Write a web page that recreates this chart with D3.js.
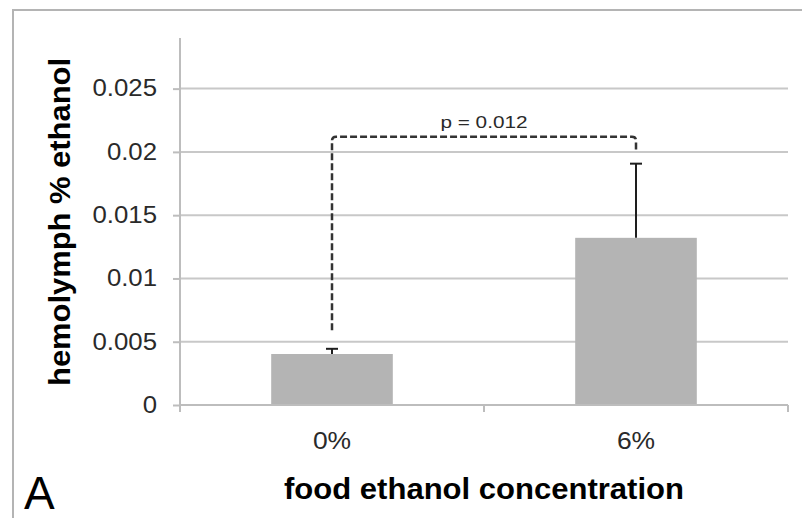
<!DOCTYPE html>
<html>
<head>
<meta charset="utf-8">
<script src="https://cdn.jsdelivr.net/npm/d3@7"></script>
<style>
  html, body { margin: 0; padding: 0; background: #fff; }
  svg { display: block; font-family: "Liberation Sans", Arial, Helvetica, sans-serif; }
</style>
</head>
<body>
<svg id="chart" width="802" height="518"></svg>
<script>
// Hemolymph ethanol by food ethanol concentration
const categories = ["0%", "6%"];
const means = [0.00403, 0.01321];
const errPlus = [0.00041, 0.00586];
const yTicks = [0, 0.005, 0.01, 0.015, 0.02, 0.025];
const yTickLabels = ["0", "0.005", "0.01", "0.015", "0.02", "0.025"];
// significance bracket: left leg end, bracket top, right leg end (data units)
const bracket = { from: 0, to: 1, leftEnd: 0.0059, top: 0.0212, rightEnd: 0.0200, label: "p = 0.012" };

const svg = d3.select("#chart");
const plot = { left: 180, right: 788, top: 38, bottom: 405 };
const yMax = 0.029;

const x = d3.scaleBand().domain(categories).range([plot.left, plot.right]).paddingInner(0).paddingOuter(0);
const y = d3.scaleLinear().domain([0, yMax]).range([plot.bottom, plot.top]);
const barW = x.bandwidth() * 0.4;
const cx = c => x(c) + x.bandwidth() / 2;

// widen glyphs horizontally by a constant factor
function widen(sel, k) {
  sel.each(function () {
    const w = this.getComputedTextLength();
    d3.select(this).attr("textLength", w * k).attr("lengthAdjust", "spacingAndGlyphs");
  });
}

// outer frame
svg.append("rect")
  .attr("x", 13).attr("y", 10).attr("width", 900).attr("height", 600)
  .attr("fill", "none").attr("stroke", "#b4b4b4").attr("stroke-width", 2);

// gridlines
svg.append("g").selectAll("line").data(yTicks.slice(1)).join("line")
  .attr("x1", plot.left).attr("x2", plot.right)
  .attr("y1", d => y(d)).attr("y2", d => y(d))
  .attr("stroke", "#c8c8c8").attr("stroke-width", 2);

// y axis
const yAxis = d3.axisLeft(y).tickValues(yTicks)
  .tickFormat((d, i) => yTickLabels[i]).tickSize(7).tickPadding(16).tickSizeOuter(0);
const gy = svg.append("g").attr("transform", `translate(${plot.left},0)`).call(yAxis);
gy.select(".domain").attr("stroke", "#bdbdbd").attr("stroke-width", 2)
  .attr("d", `M0,${plot.top}V${plot.bottom + 6}`);
gy.selectAll(".tick line").attr("stroke", "#bdbdbd").attr("stroke-width", 2);
gy.selectAll(".tick text").attr("fill", "#2a2a2a").style("font-size", "23px").call(widen, 1.12);

// bars
svg.append("g").selectAll("rect").data(categories).join("rect")
  .attr("x", d => cx(d) - barW / 2)
  .attr("y", (d, i) => y(means[i]))
  .attr("width", barW)
  .attr("height", (d, i) => y(0) - y(means[i]))
  .attr("fill", "#b4b4b4");

// x axis
const xAxis = d3.axisBottom(x).tickSize(0).tickPadding(28);
const gx = svg.append("g").attr("transform", `translate(0,${plot.bottom})`).call(xAxis);
gx.select(".domain").attr("stroke", "#bdbdbd").attr("stroke-width", 2)
  .attr("d", `M${plot.left},0H${plot.right}`);
gx.selectAll(".tick text").attr("fill", "#2a2a2a").style("font-size", "23px").call(widen, 1.15);
// category boundary ticks
const boundaries = [plot.left, ...categories.slice(1).map(c => x(c)), plot.right];
gx.append("g").selectAll("line").data(boundaries).join("line")
  .attr("x1", d => d).attr("x2", d => d).attr("y1", 0).attr("y2", 7)
  .attr("stroke", "#bdbdbd").attr("stroke-width", 2);

// error bars (plus direction only)
const eb = svg.append("g").attr("stroke", "#1e1e1e").attr("stroke-width", 2);
categories.forEach((c, i) => {
  const top = y(means[i] + errPlus[i]);
  eb.append("line").attr("x1", cx(c)).attr("x2", cx(c)).attr("y1", y(means[i])).attr("y2", top);
  eb.append("line").attr("x1", cx(c) - 6).attr("x2", cx(c) + 6).attr("y1", top).attr("y2", top);
});

// significance bracket
const bx0 = cx(categories[bracket.from]), bx1 = cx(categories[bracket.to]);
const by = y(bracket.top), r = 4;
const bp = d3.path();
bp.moveTo(bx0, y(bracket.leftEnd));
bp.lineTo(bx0, by + r);
bp.quadraticCurveTo(bx0, by, bx0 + r, by);
bp.lineTo(bx1 - r, by);
bp.quadraticCurveTo(bx1, by, bx1, by + r);
bp.lineTo(bx1, y(bracket.rightEnd));
svg.append("path").attr("d", bp.toString())
  .attr("fill", "none").attr("stroke", "#333").attr("stroke-width", 2.5)
  .attr("stroke-dasharray", "7,3");
svg.append("text")
  .attr("x", (bx0 + bx1) / 2).attr("y", by - 9)
  .attr("text-anchor", "middle").attr("fill", "#2a2a2a")
  .style("font-size", "17px").text(bracket.label).call(widen, 1.22);

// axis titles
svg.append("text")
  .attr("transform", `translate(70,222) rotate(-90)`)
  .attr("text-anchor", "middle").attr("fill", "#000")
  .style("font-size", "30px").style("font-weight", "bold")
  .text("hemolymph % ethanol").call(widen, 1.03);
svg.append("text")
  .attr("x", (plot.left + plot.right) / 2).attr("y", 499)
  .attr("text-anchor", "middle").attr("fill", "#000")
  .style("font-size", "29px").style("font-weight", "bold")
  .text("food ethanol concentration").call(widen, 1.07);

// panel letter
svg.append("text").attr("x", 24).attr("y", 509).attr("fill", "#000")
  .style("font-size", "46px").text("A");
</script>
</body>
</html>
